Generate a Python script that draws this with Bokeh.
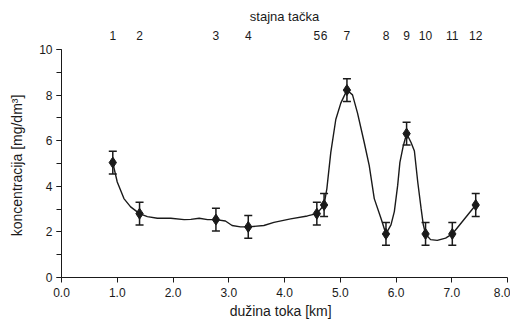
from bokeh.plotting import figure
from bokeh.models import (ColumnDataSource, Whisker, TeeHead, LinearAxis, FixedTicker,
                          SingleIntervalTicker, Range1d)
from bokeh.embed import file_html
from bokeh.resources import INLINE

# --- data ---
station_labels = ["1", "2", "3", "4", "5", "6", "7", "8", "9", "10", "11", "12"]
dist_km = [0.92, 1.40, 2.77, 3.35, 4.58, 4.71, 5.12, 5.82, 6.19, 6.53, 7.01, 7.43]
conc = [5.04, 2.80, 2.54, 2.22, 2.80, 3.18, 8.22, 1.91, 6.31, 1.91, 1.91, 3.18]
conc_err = [0.5, 0.5, 0.5, 0.5, 0.5, 0.5, 0.5, 0.5, 0.5, 0.5, 0.5, 0.5]

# smoothed trend line
curve_x = [0.92, 1.00, 1.12, 1.24, 1.40, 1.54, 1.72, 1.96, 2.20, 2.32, 2.47, 2.62, 2.77,
           2.94, 3.06, 3.21, 3.35, 3.63, 3.81, 4.11, 4.41, 4.58, 4.71, 4.76, 4.83, 4.92,
           5.01, 5.12, 5.22, 5.31, 5.43, 5.52, 5.61, 5.73, 5.82, 5.91, 5.97, 6.03, 6.07,
           6.13, 6.19, 6.27, 6.33, 6.39, 6.45, 6.49, 6.53, 6.62, 6.74, 6.89, 7.01, 7.43]
curve_y = [5.04, 4.19, 3.46, 3.10, 2.80, 2.67, 2.60, 2.60, 2.54, 2.55, 2.60, 2.54, 2.54,
           2.48, 2.28, 2.22, 2.22, 2.28, 2.42, 2.57, 2.70, 2.80, 3.18, 3.90, 5.48, 6.93,
           7.65, 8.22, 8.01, 7.21, 5.92, 4.91, 3.46, 2.60, 1.91, 2.31, 2.89, 4.04, 5.05,
           5.77, 6.31, 5.92, 5.55, 4.19, 3.03, 2.31, 1.91, 1.66, 1.63, 1.73, 1.91, 3.18]

x_ticks = [0, 1, 2, 3, 4, 5, 6, 7, 8]
x_tick_labels = ["0.0", "1.0", "2.0", "3.0", "4.0", "5.0", "6.0", "7.0", "8.0"]

FONT = "Liberation Sans"
INK = "#1a1a1a"

p = figure(width=510, height=321, output_backend="svg", toolbar_location=None,
           x_range=Range1d(0, 8), y_range=Range1d(0, 10),
           min_border_left=61, min_border_right=3, min_border_top=49, min_border_bottom=42,
           x_axis_location=None, y_axis_location=None)
p.outline_line_color = None
p.grid.visible = False
p.background_fill_color = "white"
p.border_fill_color = "white"

# bottom axis
xa = LinearAxis(ticker=FixedTicker(ticks=x_ticks),
                major_label_overrides={t: s for t, s in zip(x_ticks, x_tick_labels)},
                axis_label="dužina toka   [km]")
# left axis
ya = LinearAxis(ticker=SingleIntervalTicker(interval=2, num_minor_ticks=2),
                axis_label="koncentracija  [mg/dm³]")
# top axis with station numbers
ta = LinearAxis(ticker=FixedTicker(ticks=dist_km),
                major_label_overrides={x: s for x, s in zip(dist_km, station_labels)},
                axis_label="stajna tačka")

for ax in (xa, ya, ta):
    ax.axis_line_color = INK
    ax.major_tick_line_color = INK
    ax.minor_tick_line_color = INK
    ax.major_tick_in = 0
    ax.minor_tick_in = 0
    ax.major_tick_out = 5
    ax.minor_tick_out = 5
    ax.major_label_text_font = FONT
    ax.major_label_text_font_size = "12px"
    ax.major_label_text_color = INK
    ax.axis_label_text_font = FONT
    ax.axis_label_text_font_size = "14px"
    ax.axis_label_text_font_style = "normal"
    ax.axis_label_text_color = INK

ta.axis_label_text_font_size = "13px"
xa.minor_tick_line_color = None
xa.major_label_standoff = 5
xa.axis_label_standoff = 3
ya.major_label_standoff = 4
ya.axis_label_standoff = 11
ta.axis_line_color = None
ta.major_tick_line_color = None
ta.minor_tick_line_color = None
ta.major_tick_out = 0
ta.major_label_standoff = 10
ta.axis_label_standoff = 4

p.add_layout(xa, "below")
p.add_layout(ya, "left")
p.add_layout(ta, "above")

# trend line
p.line(curve_x, curve_y, line_color=INK, line_width=1.4)

# error bars
src = ColumnDataSource(dict(x=dist_km, y=conc,
                            lo=[c - e for c, e in zip(conc, conc_err)],
                            hi=[c + e for c, e in zip(conc, conc_err)]))
w = Whisker(source=src, base="x", lower="lo", upper="hi", line_color=INK, line_width=1.5,
            lower_head=TeeHead(size=8, line_color=INK, line_width=1.5),
            upper_head=TeeHead(size=8, line_color=INK, line_width=1.5))
p.add_layout(w)

# markers
p.scatter("x", "y", source=src, marker="diamond", size=11, fill_color=INK, line_color=INK)

open("out.html", "w").write(file_html(p, INLINE))
